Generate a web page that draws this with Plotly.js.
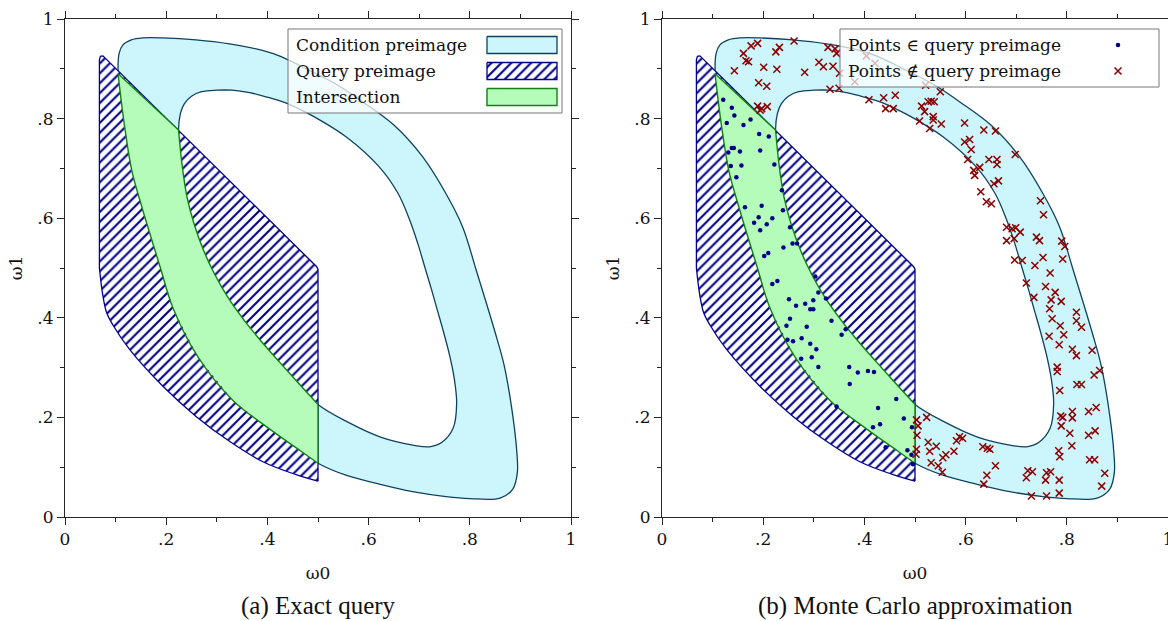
<!DOCTYPE html>
<html><head><meta charset="utf-8">
<script src="https://cdn.plot.ly/plotly-3.0.1.min.js"></script>
<style>html,body{margin:0;padding:0;background:#fff}#chart{width:1168px;height:621px}</style>
</head><body><div id="chart"></div>
<script>
// ---------------- data (ω0 = x, ω1 = y) ----------------
// Condition preimage, outer boundary (clockwise from the top-left)
const condOuterX = [0.105,0.107,0.1145,0.131,0.154,0.194,0.259,0.325,0.390,0.426,0.477,0.520,0.549,0.588,0.650,0.707,0.753,0.786,0.812,0.850,0.868,0.885,0.893,0.894,0.885,0.860,0.800,0.753,0.687,0.621,0.555];
const condOuterY = [0.890,0.931,0.948,0.958,0.962,0.962,0.958,0.950,0.937,0.925,0.900,0.878,0.861,0.834,0.787,0.723,0.649,0.582,0.498,0.371,0.304,0.203,0.129,0.089,0.056,0.038,0.037,0.041,0.051,0.066,0.084];
// outer boundary, lower-left part (also the intersection's left edge), bottom to top
const condOuterLeftX = [0.500,0.465,0.400,0.333,0.263,0.214,0.188,0.150,0.132,0.116,0.107,0.105];
const condOuterLeftY = [0.108,0.133,0.180,0.233,0.321,0.418,0.502,0.629,0.696,0.797,0.871,0.890];
// inner boundary, left part (also the intersection's right edge), top to bottom
const condInnerLeftX = [0.2244,0.231,0.241,0.255,0.274,0.296,0.322,0.352,0.386,0.424,0.462,0.500];
const condInnerLeftY = [0.777,0.710,0.643,0.589,0.535,0.487,0.441,0.398,0.355,0.311,0.268,0.226];
// inner boundary, rest (bottom, right side, top), counter-clockwise
const condInnerX = [0.560,0.625,0.690,0.720,0.745,0.767,0.774,0.769,0.760,0.748,0.736,0.724,0.711,0.697,0.681,0.658,0.621,0.556,0.490,0.465,0.435,0.400,0.365,0.330,0.300,0.270,0.250,0.236,0.228];
const condInnerY = [0.190,0.160,0.144,0.141,0.150,0.178,0.228,0.280,0.325,0.372,0.415,0.458,0.502,0.550,0.597,0.650,0.703,0.763,0.805,0.818,0.832,0.843,0.852,0.857,0.857,0.854,0.845,0.830,0.810];
// Query preimage: straight edges, then the curved lower edge
const queryEdgeX = [0.068,0.068,0.070,0.075,0.080,0.497,0.500,0.500];
const queryEdgeY = [0.500,0.918,0.925,0.926,0.921,0.503,0.497,0.072];
const queryCurveX = [0.500,0.457,0.391,0.325,0.259,0.194,0.128,0.095,0.082,0.074,0.068];
const queryCurveY = [0.072,0.085,0.111,0.152,0.202,0.262,0.336,0.385,0.411,0.450,0.500];
// Monte Carlo samples
const inPtsX = [0.121,0.138,0.143,0.128,0.175,0.161,0.192,0.211,0.138,0.142,0.131,0.154,0.194,0.136,0.157,0.222,0.147,0.237,0.164,0.197,0.239,0.191,0.182,0.207,0.218,0.194,0.253,0.240,0.258,0.267,0.202,0.210,
  0.218,0.228,0.303,0.309,0.324,0.251,0.265,0.283,0.293,0.299,0.299,0.253,0.246,0.286,0.335,0.363,0.355,0.248,0.259,0.276,0.293,0.305,0.275,0.296,0.309,0.370,0.387,0.407,0.419,0.371,0.345,0.463,0.427,0.478,0.431,0.417,0.494,0.442,0.485,0.493,0.496];
const inPtsY = [0.838,0.822,0.806,0.791,0.798,0.787,0.769,0.764,0.741,0.741,0.732,0.734,0.736,0.705,0.706,0.708,0.682,0.656,0.622,0.625,0.616,0.602,0.591,0.588,0.600,0.576,0.582,0.541,0.549,0.549,0.524,0.530,
  0.468,0.474,0.483,0.451,0.439,0.437,0.424,0.428,0.417,0.417,0.435,0.398,0.384,0.382,0.394,0.377,0.366,0.356,0.353,0.359,0.348,0.337,0.318,0.321,0.301,0.301,0.290,0.293,0.291,0.267,0.222,0.237,0.219,0.198,0.186,0.180,0.180,0.140,0.134,0.125,0.106];
const outPtsX = [0.176,0.189,0.161,0.166,0.171,0.143,0.225,0.232,0.201,0.227,0.261,0.191,0.207,0.189,0.197,0.208,0.194,0.328,0.342,0.345,0.310,0.319,0.338,0.282,0.351,0.332,0.350,0.409,0.438,0.461,0.442,0.457,0.381,0.404,0.421,
  0.521,0.550,0.513,0.519,0.526,0.532,0.538,0.536,0.536,0.529,0.509,0.552,0.598,0.636,0.659,0.598,0.608,0.611,0.604,0.646,0.662,0.662,0.698,0.616,0.628,0.618,0.656,0.665,0.630,0.641,0.651,0.748,0.754,0.681,0.692,0.699,0.708,0.681,0.696,0.740,0.746,0.790,0.796,0.697,0.712,0.753,0.792,0.737,
  0.767,0.720,0.758,0.777,0.735,0.769,0.789,0.766,0.819,0.771,0.787,0.819,0.829,0.765,0.794,0.785,0.811,0.819,0.850,0.781,0.781,0.854,0.865,0.786,0.820,0.829,0.788,0.792,0.811,0.789,0.811,0.843,0.858,0.806,0.843,0.856,0.810,0.784,0.786,0.845,0.855,0.875,0.869,0.723,0.732,0.720,0.760,0.768,0.758,0.785,0.730,0.760,0.785,
  0.503,0.523,0.506,0.504,0.503,0.526,0.542,0.529,0.502,0.532,0.546,0.555,0.561,0.554,0.577,0.582,0.588,0.594,0.634,0.643,0.648,0.659,0.642,0.636];
const outPtsY = [0.946,0.951,0.931,0.916,0.914,0.896,0.934,0.943,0.903,0.899,0.956,0.872,0.865,0.825,0.820,0.824,0.817,0.943,0.940,0.931,0.913,0.904,0.905,0.893,0.891,0.859,0.861,0.838,0.842,0.847,0.820,0.820,0.874,0.926,0.911,
  0.867,0.854,0.825,0.814,0.834,0.835,0.834,0.804,0.797,0.780,0.795,0.789,0.791,0.777,0.775,0.753,0.758,0.738,0.718,0.718,0.718,0.708,0.728,0.696,0.702,0.686,0.669,0.675,0.653,0.633,0.629,0.635,0.607,0.582,0.579,0.581,0.572,0.555,0.559,0.562,0.555,0.554,0.543,0.516,0.515,0.521,0.518,0.505,
  0.490,0.470,0.463,0.451,0.441,0.436,0.433,0.418,0.411,0.398,0.384,0.394,0.381,0.363,0.366,0.346,0.337,0.324,0.335,0.301,0.292,0.285,0.294,0.254,0.266,0.266,0.203,0.200,0.212,0.183,0.199,0.212,0.220,0.168,0.164,0.173,0.143,0.133,0.121,0.115,0.115,0.088,0.062,0.093,0.091,0.079,0.089,0.091,0.074,0.074,0.042,0.042,0.048,
  0.195,0.200,0.183,0.164,0.136,0.150,0.142,0.132,0.126,0.109,0.103,0.119,0.125,0.090,0.132,0.153,0.161,0.158,0.141,0.138,0.136,0.103,0.084,0.066];
const tickVals = [0, 0.2, 0.4, 0.6, 0.8, 1];
const tickText = ['0', '.2', '.4', '.6', '.8', '1'];
const minorVals = [0.1, 0.3, 0.5, 0.7, 0.9];
const legendA = ['Condition preimage', 'Query preimage', 'Intersection'];
const legendB = ['Points \u2208 query preimage', 'Points \u2209 query preimage'];
const captions = ['(a) Exact query', '(b) Monte Carlo approximation'];

// ---------------- styles / layout ----------------
const W = 1168, H = 621;
const F = 'DejaVu Serif';
const axc = '#262626';
const condFill = 'rgb(204,245,252)', condLine = 'rgb(14,66,96)';
const interFill = 'rgb(181,252,186)', interLine = 'rgb(16,130,16)';
const navy = 'rgb(0,0,139)', dred = 'rgb(139,0,0)';
const pattern = {shape: '/', fgcolor: navy, bgcolor: '#ffffff', size: 7, solidity: 0.3};

const last = a => a[a.length - 1];
const outerLoopX = condOuterX.concat(condOuterLeftX);
const outerLoopY = condOuterY.concat(condOuterLeftY);
const innerLoopX = condInnerLeftX.concat(condInnerX, [condInnerLeftX[0]]);
const innerLoopY = condInnerLeftY.concat(condInnerY, [condInnerLeftY[0]]);
const condX = outerLoopX.concat([null], innerLoopX);
const condY = outerLoopY.concat([null], innerLoopY);
const interX = condOuterLeftX.concat(condInnerLeftX, [condOuterLeftX[0]]);
const interY = condOuterLeftY.concat(condInnerLeftY, [condOuterLeftY[0]]);
const interCurveX = condOuterLeftX.concat([null], condInnerLeftX);
const interCurveY = condOuterLeftY.concat([null], condInnerLeftY);
const interStraightX = [last(condOuterLeftX), condInnerLeftX[0], null, last(condInnerLeftX), condOuterLeftX[0]];
const interStraightY = [last(condOuterLeftY), condInnerLeftY[0], null, last(condInnerLeftY), condOuterLeftY[0]];
const qFillX = queryEdgeX.concat(queryCurveX.slice(1)), qFillY = queryEdgeY.concat(queryCurveY.slice(1));

function shapeTraces(xa, ya) {
  const base = {type:'scatter', xaxis:xa, yaxis:ya, hoverinfo:'skip', showlegend:false};
  return [
    Object.assign({mode:'lines', x:condX, y:condY, fill:'toself', fillcolor:condFill, line:{color:condLine, width:1.3, shape:'spline', smoothing:1}, connectgaps:false}, base),
    Object.assign({mode:'none', x:qFillX, y:qFillY, fill:'toself', fillcolor:'#ffffff', fillpattern:pattern}, base),
    Object.assign({mode:'lines', x:queryEdgeX, y:queryEdgeY, line:{color:navy, width:1.3}}, base),
    Object.assign({mode:'lines', x:queryCurveX, y:queryCurveY, line:{color:navy, width:1.3, shape:'spline', smoothing:1}}, base),
    Object.assign({mode:'none', x:interX, y:interY, fill:'toself', fillcolor:interFill}, base),
    Object.assign({mode:'lines', x:interCurveX, y:interCurveY, line:{color:interLine, width:1.4, shape:'spline', smoothing:1}, connectgaps:false}, base),
    Object.assign({mode:'lines', x:interStraightX, y:interStraightY, line:{color:interLine, width:1.4}, connectgaps:false}, base)
  ];
}
const traces = shapeTraces('x', 'y').concat(shapeTraces('x2', 'y2'));
traces.push({type:'scatter', mode:'markers', x:inPtsX, y:inPtsY, marker:{size:4.5, color:navy}, xaxis:'x2', yaxis:'y2', hoverinfo:'skip', showlegend:false});
traces.push({type:'scatter', mode:'markers', x:outPtsX, y:outPtsY, marker:{symbol:'x-thin-open', size:7, color:dred, line:{width:1.5, color:dred}}, xaxis:'x2', yaxis:'y2', hoverinfo:'skip', showlegend:false});

// ---- hand-built legends in pixel space (axes x5/y5) ----
const annotations = [];
function legendBox(b) {
  traces.push({type:'scatter', mode:'lines', x:[b.x0,b.x1,b.x1,b.x0,b.x0], y:[b.y0,b.y0,b.y1,b.y1,b.y0], fill:'toself', fillcolor:'rgba(255,255,255,0.72)', line:{color:'#777', width:1}, xaxis:'x5', yaxis:'y5', hoverinfo:'skip', showlegend:false});
}
function legendText(txt, x, y) {
  annotations.push({xref:'x5', yref:'y5', x:x, y:y, text:txt, showarrow:false, xanchor:'left', yanchor:'middle', font:{family:F, size:17, color:'#111'}});
}
const LA = {x0:288, y0:29, x1:562, y1:113, rows:[45,71,97], tx:294, sx0:487, sx1:557, sh:8.5};
legendBox(LA);
const swStyles = [
  {fillcolor:condFill, line:{color:condLine, width:1.3}},
  {fillcolor:'#ffffff', fillpattern:pattern, line:{color:navy, width:1.3}},
  {fillcolor:interFill, line:{color:interLine, width:1.4}}
];
legendA.forEach((t, i) => {
  legendText(t, LA.tx, LA.rows[i]);
  const r = LA.rows[i];
  traces.push(Object.assign({type:'scatter', mode:'lines', x:[LA.sx0,LA.sx1,LA.sx1,LA.sx0,LA.sx0], y:[r-LA.sh,r-LA.sh,r+LA.sh,r+LA.sh,r-LA.sh], fill:'toself', xaxis:'x5', yaxis:'y5', hoverinfo:'skip', showlegend:false}, swStyles[i]));
});
const LB = {x0:840, y0:29, x1:1159, y1:87, rows:[45,71], tx:846, mx:1118};
legendBox(LB);
legendB.forEach((t, i) => legendText(t, LB.tx, LB.rows[i]));
traces.push({type:'scatter', mode:'markers', x:[LB.mx], y:[LB.rows[0]], marker:{size:4.5, color:navy}, xaxis:'x5', yaxis:'y5', hoverinfo:'skip', showlegend:false});
traces.push({type:'scatter', mode:'markers', x:[LB.mx], y:[LB.rows[1]], marker:{symbol:'x-thin-open', size:7, color:dred, line:{width:1.5, color:dred}}, xaxis:'x5', yaxis:'y5', hoverinfo:'skip', showlegend:false});

captions.forEach((c, i) => {
  annotations.push({xref:'paper', yref:'paper', x:(i === 0 ? 318 : 915) / W, y:1 - 606 / H, text:c, showarrow:false, xanchor:'center', yanchor:'middle', font:{family:'Liberation Serif', size:25, color:'#111'}});
});

const yDom = [(H - 517) / H, (H - 19) / H];
const xDomA = [65 / W, 571 / W], xDomB = [662 / W, 1];
const tfont = {family:F, size:17, color:'#111'};
function mainAxis(dom, anchor, title, isY) {
  return {domain:dom, anchor:anchor, range:[0,1], tickmode:'array', tickvals:tickVals, ticktext:tickText,
    ticks:'outside', ticklen:7, tickwidth:1, tickcolor:axc, showline:true, linecolor:axc, linewidth:1, mirror:'allticks',
    showgrid:false, zeroline:false, tickfont:tfont, automargin:false, fixedrange:true, ticklabeloverflow:'allow',
    minor:{tickvals:minorVals, ticks:'outside', ticklen:4, tickwidth:1, tickcolor:axc, showgrid:false},
    title:{text:title, font:tfont, standoff:isY ? 10 : 18}};
}
function innerAxis(over, anchor) {
  return {overlaying:over, anchor:anchor, range:[0,1], tickmode:'array', tickvals:tickVals, ticks:'inside', ticklen:7, tickwidth:1, tickcolor:axc,
    showline:false, mirror:'allticks', showticklabels:false, showgrid:false, zeroline:false, automargin:false, fixedrange:true,
    minor:{tickvals:minorVals, ticks:'inside', ticklen:4, tickwidth:1, tickcolor:axc, showgrid:false}};
}
const layout = {
  width:W, height:H, margin:{l:0, r:0, t:0, b:0}, paper_bgcolor:'#ffffff', plot_bgcolor:'rgba(0,0,0,0)', showlegend:false,
  xaxis: mainAxis(xDomA, 'y', '\u03c90', false),
  yaxis: mainAxis(yDom, 'x', '\u03c91', true),
  xaxis2: mainAxis(xDomB, 'y2', '\u03c90', false),
  yaxis2: mainAxis(yDom, 'x2', '\u03c91', true),
  xaxis3: innerAxis('x', 'y3'), yaxis3: innerAxis('y', 'x3'),
  xaxis4: innerAxis('x2', 'y4'), yaxis4: innerAxis('y2', 'x4'),
  xaxis5: {domain:[0,1], anchor:'y5', range:[0,W], visible:false, fixedrange:true},
  yaxis5: {domain:[0,1], anchor:'x5', range:[H,0], visible:false, fixedrange:true},
  annotations: annotations
};
Plotly.newPlot('chart', traces, layout, {displayModeBar:false, staticPlot:true});
</script></body></html>
